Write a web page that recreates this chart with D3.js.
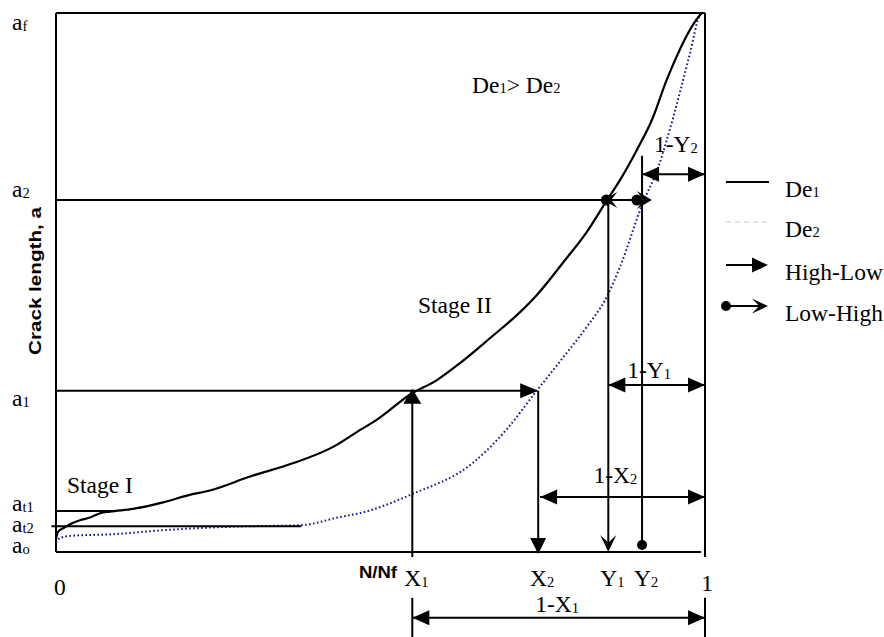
<!DOCTYPE html>
<html>
<head>
<meta charset="utf-8">
<title>Crack growth, two-level loading</title>
<script src="https://d3js.org/d3.v7.min.js"></script>
<style>
  body { margin: 0; background: #fff; }
  svg text { font-family: "Liberation Serif", "Times New Roman", serif; font-size: 23.5px; fill: #000; }
</style>
</head>
<body>
<svg id="chart" width="884" height="637"></svg>
<script>
// crack growth curves, [N/Nf, crack length] with ao = 0 and af = 1
const de1 = [[0, 0.025], [0.0035, 0.038], [0.011, 0.044], [0.024, 0.053], [0.037, 0.059], [0.05, 0.063],
  [0.068, 0.072], [0.083, 0.075], [0.119, 0.08], [0.165, 0.092], [0.206, 0.106], [0.237, 0.114],
  [0.299, 0.14], [0.366, 0.165], [0.427, 0.195], [0.468, 0.226], [0.494, 0.245], [0.548, 0.294],
  [0.587, 0.319], [0.622, 0.35], [0.669, 0.397], [0.715, 0.445], [0.741, 0.477],
  [0.782, 0.538], [0.818, 0.594], [0.849, 0.653], [0.869, 0.69], [0.895, 0.746], [0.918, 0.801],
  [0.941, 0.876], [0.992, 0.996], [0.995, 1]];
const de2 = [[0, 0.017], [0.006, 0.026], [0.024, 0.03], [0.088, 0.033], [0.171, 0.041], [0.273, 0.047],
  [0.379, 0.05], [0.438, 0.065], [0.468, 0.072], [0.548, 0.107], [0.643, 0.166], [0.694, 0.227],
  [0.738, 0.295], [0.782, 0.362], [0.818, 0.418], [0.849, 0.474], [0.869, 0.529], [0.904, 0.647],
  [0.928, 0.714], [0.941, 0.764], [0.961, 0.851], [0.977, 0.926], [0.992, 0.996], [0.995, 1]];

// crack length levels (y axis)
const levelSubs = ['o', 't2', 't1', '1', '2', 'f'];
const levelValues = [0, 0.048, 0.076, 0.299, 0.653, 1];
const levelLabelAt = [-0.002, 0.037, 0.076, 0.271, 0.659, 0.968];

// cycle ratios (x axis)
const cycleMain = ['X', 'X', 'Y', 'Y'];
const cycleSubs = ['1', '2', '1', '2'];
const cycleValues = [0.549, 0.743, 0.851, 0.903];

// remaining-life dimensions: [main, sub, from, level, label x, label level]
const dims = [
  ['1-X', '1', 0.549, -0.122, 0.772, -0.111],
  ['1-X', '2', 0.746, 0.102, 0.862, 0.128],
  ['1-Y', '1', 0.851, 0.31, 0.914, 0.323],
  ['1-Y', '2', 0.903, 0.701, 0.955, 0.742]
];

const legendMain = ['De', 'De', 'High-Low', 'Low-High'];
const legendSubs = ['1', '2', '', ''];

const svg = d3.select('#chart');
const x = d3.scaleLinear().domain([0, 1]).range([56, 705]);
const y = d3.scaleLinear().domain([0, 1]).range([552, 13]);

function line(x1, y1, x2, y2, w) {
  return svg.append('line').attr('x1', x1).attr('y1', y1).attr('x2', x2).attr('y2', y2)
    .attr('stroke', '#000').attr('stroke-width', w || 2);
}
function head(px, py, angle, len, hw, stealth) {
  const d = stealth
    ? `M0,0L${-len},${-hw}L${-len * 0.55},0L${-len},${hw}Z`
    : `M0,0L${-len},${-hw}L${-len},${hw}Z`;
  svg.append('path').attr('d', d).attr('fill', '#000')
    .attr('transform', `translate(${px},${py}) rotate(${angle})`);
}
function dot(px, py, r) {
  svg.append('circle').attr('cx', px).attr('cy', py).attr('r', r || 5).attr('fill', '#000');
}
function label(px, py, main, sub, anchor) {
  const t = svg.append('text').attr('x', px).attr('y', py).attr('text-anchor', anchor || 'start');
  t.append('tspan').text(main);
  if (sub) t.append('tspan').attr('font-size', 14.5).attr('dy', 1).text(sub);
  return t;
}

// frame
line(x(0), y(1), x(0), y(0));
line(x(0), y(1), x(1), y(1));
line(x(0), y(0), x(0.994), y(0));
line(x(1), y(1), x(1), y(0) + 5);
line(x(1), y(-0.085), x(1), 637);

// curves
const path = d3.line().x(d => x(d[0])).y(d => y(d[1])).curve(d3.curveMonotoneX);
svg.append('path').datum(de2).attr('d', path).attr('fill', 'none')
  .attr('stroke', '#15158f').attr('stroke-width', 2).attr('stroke-dasharray', '1.6,2.4');
svg.append('path').datum(de1).attr('d', path).attr('fill', 'none')
  .attr('stroke', '#000').attr('stroke-width', 2.2);

// transition lines
line(x(0), y(levelValues[2]), x(0.088), y(levelValues[2]));
line(x(-0.007), y(levelValues[1]), x(0.378), y(levelValues[1]));

// a1: high-low arrow to De2, X1 up, X2 down
line(x(0), y(levelValues[3]), x(0.743) - 10, y(levelValues[3]));
head(x(0.743), y(levelValues[3]), 0, 18, 7.5);
line(x(cycleValues[0]), y(0) + 5, x(cycleValues[0]), y(levelValues[3]) + 10);
head(x(cycleValues[0]), y(levelValues[3]) - 2, -90, 15, 9);
line(x(cycleValues[1]), y(levelValues[3]), x(cycleValues[1]), y(0) - 8);
head(x(cycleValues[1]), y(0) + 2, 90, 16, 8);
line(x(cycleValues[0]), y(-0.085), x(cycleValues[0]), 637);

// a2: low-high, Y1 down, Y2 with dot
line(x(0), y(levelValues[4]), x(cycleValues[3]), y(levelValues[4]));
dot(x(cycleValues[2]) - 2, y(levelValues[4]), 5.5);
head(x(cycleValues[2]) - 5, y(levelValues[4]), 180, 14, 8, true);
dot(x(0.895), y(levelValues[4]), 5.5);
head(x(0.918), y(levelValues[4]), 0, 15, 9, true);
line(x(cycleValues[2]), y(levelValues[4]), x(cycleValues[2]), y(0) - 6);
head(x(cycleValues[2]), y(0), 90, 17, 8, true);
line(x(cycleValues[3]), y(0.735), x(cycleValues[3]), y(0.013));
dot(x(cycleValues[3]), y(0.013));

// remaining-life dimensions
dims.forEach(d => {
  const x1 = x(d[2]), x2 = x(1), py = y(d[3]);
  line(x1, py, x2, py);
  head(x1, py, 180, 17, 7.5);
  head(x2, py, 0, 17, 7.5);
  label(x(d[4]), y(d[5]), d[0], d[1], 'middle');
});

// y labels
levelSubs.forEach((s, i) => label(12, y(levelLabelAt[i]), 'a', s));

// x labels
label(x(0.006), 595, '0', '', 'middle');
cycleValues.forEach((v, i) => label(x(v) + 4, 586, cycleMain[i], cycleSubs[i], 'middle'));
label(x(1) + 2, 591, '1', '', 'middle').attr('font-size', 19);

// axis titles
svg.append('text').attr('x', 359).attr('y', 578)
  .attr('textLength', 38).attr('lengthAdjust', 'spacingAndGlyphs')
  .style('font-family', 'Liberation Sans, Arial, sans-serif').style('font-size', '16px')
  .style('font-weight', 'bold').text('N/Nf');
svg.append('text').attr('transform', 'translate(41,281) rotate(-90)')
  .attr('text-anchor', 'middle').attr('textLength', 148).attr('lengthAdjust', 'spacingAndGlyphs')
  .style('font-family', 'Liberation Sans, Arial, sans-serif').style('font-size', '16px')
  .style('font-weight', 'bold').text('Crack length, a');

// annotations
label(67, 493, 'Stage I');
label(418, 313, 'Stage II');
const cmp = svg.append('text').attr('x', 472).attr('y', 93);
cmp.append('tspan').text('De');
cmp.append('tspan').attr('font-size', 14.5).text('1');
cmp.append('tspan').text('> De');
cmp.append('tspan').attr('font-size', 14.5).text('2');

// legend
const lx = 726, ly = [182, 222, 265, 306];
line(lx, ly[0], lx + 43, ly[0]);
svg.append('line').attr('x1', lx).attr('y1', ly[1]).attr('x2', lx + 43).attr('y2', ly[1])
  .attr('stroke', '#c8c8c8').attr('stroke-width', 1).attr('stroke-dasharray', '5,4');
line(lx, ly[2], lx + 28, ly[2]);
head(lx + 42, ly[2], 0, 16, 7.5);
dot(lx, ly[3]);
line(lx, ly[3], lx + 34, ly[3]);
head(lx + 42, ly[3], 0, 16, 7.5, true);
legendMain.forEach((m, i) => {
  const t = svg.append('text').attr('x', 785).attr('y', ly[i] + 15);
  t.append('tspan').text(m);
  if (legendSubs[i]) t.append('tspan').attr('font-size', 14.5).text(legendSubs[i]);
});
</script>
</body>
</html>
